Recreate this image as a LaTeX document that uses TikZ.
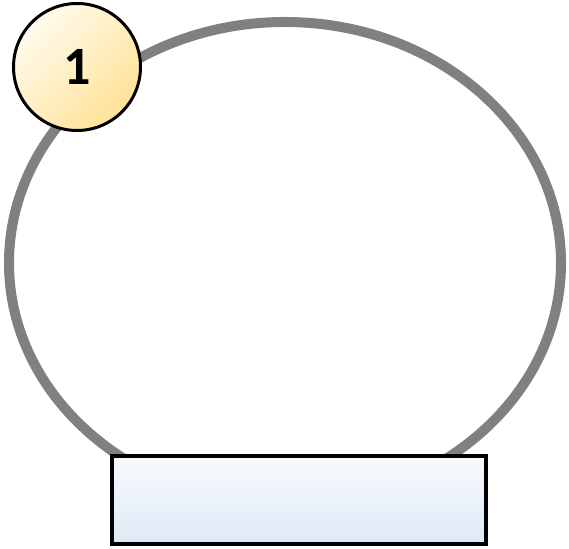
\documentclass[tikz,border=0pt]{standalone}
\usepackage{fontspec}
\setmainfont{Carlito}
\usepackage{xcolor}
\usepackage{tikz}
\usetikzlibrary{shapes.geometric,positioning}
\definecolor{ringgray}{RGB}{128,128,128}
\definecolor{badgelight}{RGB}{255,251,238}
\definecolor{badgedark}{RGB}{255,226,150}
\definecolor{boxtop}{RGB}{247,250,254}
\definecolor{boxbottom}{RGB}{222,233,246}

\begin{document}
\begin{tikzpicture}[
  x=1pt, y=1pt,
  ring/.style={ellipse, draw=ringgray, line width=10pt, minimum width=552pt,
               minimum height=482pt, inner sep=0pt},
  badge/.style={circle, draw=black, line width=3pt, minimum size=127pt, inner sep=0pt,
                top color=badgelight, bottom color=badgedark, shading angle=45,
                font=\fontsize{54}{54}\selectfont\bfseries},
  basebox/.style={rectangle, draw=black, line width=4pt, minimum width=374pt,
                  minimum height=88pt, inner sep=0pt,
                  top color=boxtop, bottom color=boxbottom}
]
\useasboundingbox (0,0) rectangle (569,548);

\node[ring] (loop) at (285,285) {};
\node[basebox] (base) at (299,48) {};
\node[badge] (num) at (77,481) {1};

\end{tikzpicture}
\end{document}
